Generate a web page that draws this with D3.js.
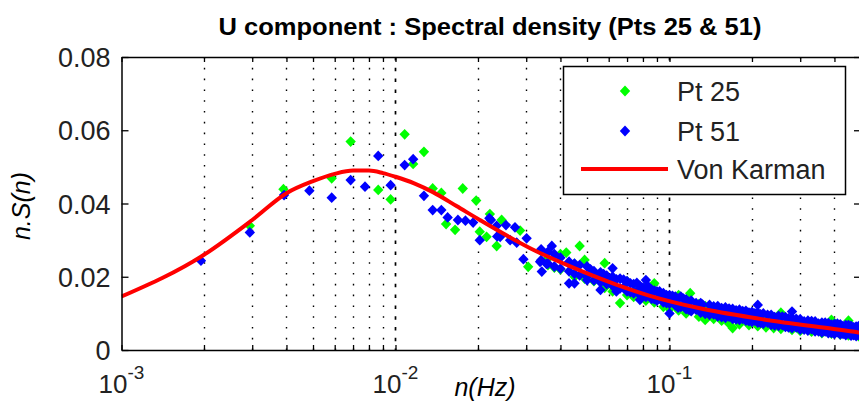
<!DOCTYPE html>
<html>
<head>
<meta charset="utf-8">
<script src="https://cdn.jsdelivr.net/npm/d3@7"></script>
<style>
  body { margin: 0; background: #fff; }
  svg { display: block; font-family: "Liberation Sans", Arial, sans-serif; }
</style>
</head>
<body>
<div id="chart"></div>
<script>
const chartTitle = "U component : Spectral density (Pts 25 & 51)";
const seriesNames = ["Pt 25", "Pt 51", "Von Karman"];
const yTicks = [0, 0.02, 0.04, 0.06, 0.08];
const xMajor = [1e-3, 1e-2, 1e-1];
const xExponents = ["-3", "-2", "-1"];

// Von Karman fit
const vkN = [0.001, 0.002, 0.003, 0.004, 0.005, 0.006, 0.007, 0.008, 0.009, 0.010, 0.0117,
  0.0137, 0.0167, 0.0203, 0.031, 0.0483, 0.0643, 0.0849, 0.129, 0.214, 0.49, 0.50];
const vkS = [0.0146, 0.026, 0.0355, 0.0428, 0.0461, 0.0481, 0.0490, 0.0490, 0.0483, 0.0473, 0.0455,
  0.0431, 0.0393, 0.0355, 0.0278, 0.0214, 0.0178, 0.0148, 0.0114, 0.0085, 0.0048, 0.0047];

// Pt 25 (green) [n, n.S(n)]
const pt25 = [
  [0.00294, 0.0339], [0.0039, 0.0439], [0.00585, 0.0469], [0.00686, 0.0569], [0.00865, 0.0437],
  [0.0096, 0.0411], [0.0108, 0.0589], [0.0116, 0.0508], [0.0127, 0.0541], [0.01367, 0.0441],
  [0.0147, 0.0429], [0.0176, 0.0441], [0.0197, 0.0408], [0.0153, 0.0344], [0.0165, 0.0328],
  [0.0215, 0.0309], [0.0221, 0.0371], [0.0203, 0.0323], [0.0234, 0.0284], [0.0244, 0.0355],
  [0.0285, 0.0326], [0.0305, 0.0227],
  [0.034, 0.0270], [0.036, 0.0250], [0.036, 0.0232], [0.038, 0.0225], [0.040, 0.0262], [0.040, 0.0220],
  [0.042, 0.0266], [0.045, 0.0235], [0.045, 0.0200], [0.047, 0.0284], [0.049, 0.0246], [0.049, 0.0195],
  [0.053, 0.0205], [0.053, 0.0188], [0.058, 0.0237], [0.058, 0.0170], [0.062, 0.0185], [0.062, 0.0160],
  [0.066, 0.0128], [0.070, 0.0187], [0.070, 0.0150], [0.074, 0.0160], [0.074, 0.0145],
  [0.078, 0.0170], [0.078, 0.0140], [0.082, 0.0173], [0.082, 0.0135], [0.088, 0.0182], [0.088, 0.0130],
  [0.095, 0.0150], [0.095, 0.0118], [0.100, 0.0145], [0.100, 0.0112], [0.108, 0.0150], [0.108, 0.0108],
  [0.115, 0.0135], [0.115, 0.0100], [0.119, 0.0155], [0.128, 0.0091], [0.128, 0.0125],
  [0.135, 0.0082], [0.135, 0.0120], [0.145, 0.0115], [0.145, 0.0085], [0.155, 0.0108], [0.155, 0.0080],
  [0.165, 0.0104], [0.165, 0.0072], [0.170, 0.0060], [0.180, 0.0098], [0.180, 0.0070],
  [0.195, 0.0094], [0.195, 0.0068], [0.210, 0.0092], [0.210, 0.0065], [0.225, 0.0088], [0.225, 0.0062],
  [0.240, 0.0086], [0.240, 0.0060], [0.255, 0.0102], [0.255, 0.0058], [0.280, 0.0078], [0.280, 0.0055],
  [0.300, 0.0075], [0.300, 0.0052], [0.330, 0.0070], [0.330, 0.0050], [0.360, 0.0068], [0.360, 0.0046],
  [0.390, 0.0082], [0.390, 0.0045], [0.420, 0.0062], [0.420, 0.0042], [0.450, 0.0080], [0.450, 0.0040],
  [0.490, 0.0058], [0.490, 0.0038]
];

// Pt 51 (blue) [n, n.S(n)]
const pt51 = [
  [0.00195, 0.0244], [0.00294, 0.0321], [0.00392, 0.0423], [0.00485, 0.0435], [0.00585, 0.0416],
  [0.00686, 0.0464], [0.00774, 0.0446], [0.00865, 0.0530], [0.0096, 0.0450], [0.0108, 0.0505],
  [0.0116, 0.0521], [0.0127, 0.0421], [0.01367, 0.0382], [0.0147, 0.0382], [0.0155, 0.0362],
  [0.0169, 0.0355], [0.0180, 0.0353], [0.0192, 0.0348], [0.0203, 0.0300], [0.0220, 0.0360],
  [0.0223, 0.0355], [0.0234, 0.0339], [0.0235, 0.0310], [0.0241, 0.0309], [0.0262, 0.0300],
  [0.0253, 0.0341], [0.0273, 0.0335], [0.0277, 0.0293], [0.0301, 0.0305], [0.0293, 0.0248],
  [0.0337, 0.0241], [0.0356, 0.0235], [0.0372, 0.0284], [0.0342, 0.0214],
  [0.034, 0.0275], [0.034, 0.0245], [0.036, 0.0268], [0.036, 0.0236], [0.038, 0.0262], [0.038, 0.0228],
  [0.040, 0.0252], [0.040, 0.0222], [0.043, 0.0241], [0.043, 0.0182], [0.043, 0.0215],
  [0.045, 0.0182], [0.045, 0.0236], [0.045, 0.0208], [0.047, 0.0232], [0.047, 0.0204],
  [0.050, 0.0228], [0.050, 0.0191], [0.050, 0.0200], [0.053, 0.0215], [0.053, 0.0190],
  [0.056, 0.0212], [0.056, 0.0164], [0.056, 0.0185], [0.059, 0.0203], [0.059, 0.0180],
  [0.062, 0.0223], [0.062, 0.0200], [0.062, 0.0175], [0.066, 0.0195], [0.066, 0.0168],
  [0.070, 0.0188], [0.070, 0.0160], [0.074, 0.0180], [0.074, 0.0155],
  [0.078, 0.0137], [0.078, 0.0175], [0.078, 0.0150], [0.082, 0.0191], [0.082, 0.0168], [0.082, 0.0145],
  [0.086, 0.0165], [0.086, 0.0140], [0.090, 0.0160], [0.090, 0.0135],
  [0.095, 0.0141], [0.095, 0.0155], [0.095, 0.0130], [0.100, 0.0150], [0.100, 0.0100], [0.100, 0.0126],
  [0.105, 0.0146], [0.105, 0.0122], [0.110, 0.0146], [0.110, 0.0118], [0.115, 0.0138], [0.115, 0.0112],
  [0.120, 0.0135], [0.120, 0.0106], [0.130, 0.0128], [0.130, 0.0102], [0.140, 0.0123], [0.140, 0.0096],
  [0.150, 0.0120], [0.150, 0.0092], [0.160, 0.0116], [0.160, 0.0088], [0.170, 0.0112], [0.170, 0.0085],
  [0.180, 0.0110], [0.180, 0.0082], [0.190, 0.0107], [0.190, 0.0080], [0.200, 0.0104], [0.200, 0.0077],
  [0.210, 0.0123], [0.210, 0.0102], [0.210, 0.0075], [0.220, 0.0100], [0.220, 0.0072],
  [0.235, 0.0096], [0.235, 0.0069], [0.250, 0.0093], [0.250, 0.0066], [0.265, 0.0090], [0.265, 0.0063],
  [0.280, 0.0105], [0.280, 0.0087], [0.280, 0.0060], [0.300, 0.0084], [0.300, 0.0056],
  [0.320, 0.0080], [0.320, 0.0053], [0.340, 0.0078], [0.340, 0.0051], [0.360, 0.0075], [0.360, 0.0048],
  [0.380, 0.0073], [0.380, 0.0046], [0.400, 0.0071], [0.400, 0.0044], [0.420, 0.0070], [0.420, 0.0043],
  [0.440, 0.0068], [0.440, 0.0041], [0.460, 0.0066], [0.460, 0.0039], [0.480, 0.0064], [0.480, 0.0038],
  [0.500, 0.0063], [0.500, 0.0036],
  [0.0515, 0.0220], [0.0545, 0.0196], [0.0575, 0.0207], [0.0605, 0.0185], [0.064, 0.0193],
  [0.068, 0.0170], [0.072, 0.0182], [0.076, 0.0160], [0.080, 0.0170], [0.084, 0.0150], [0.088, 0.0162],
  [0.092, 0.0142], [0.0975, 0.0150], [0.1025, 0.0130], [0.1075, 0.0140], [0.1125, 0.0120],
  [0.1175, 0.0132], [0.125, 0.0110],
  [0.132, 0.0124], [0.145, 0.0097], [0.155, 0.0114], [0.165, 0.0091], [0.175, 0.0108], [0.185, 0.0085],
  [0.195, 0.0102], [0.205, 0.0080], [0.215, 0.0097], [0.228, 0.0075], [0.242, 0.0090], [0.258, 0.0068],
  [0.272, 0.0086], [0.290, 0.0062], [0.310, 0.0078], [0.330, 0.0057], [0.350, 0.0072], [0.370, 0.0051],
  [0.390, 0.0069], [0.410, 0.0049], [0.430, 0.0065], [0.450, 0.0046], [0.470, 0.0062], [0.490, 0.0043],
  [0.064, 0.0160], [0.068, 0.0192], [0.072, 0.0158], [0.076, 0.0183], [0.080, 0.0148], [0.084, 0.0172],
  [0.088, 0.0139], [0.092, 0.0160], [0.0975, 0.0128], [0.1025, 0.0148], [0.1075, 0.0116],
  [0.1125, 0.0140], [0.1175, 0.0110],
  [0.125, 0.0128], [0.135, 0.0099], [0.145, 0.0119], [0.155, 0.0090], [0.165, 0.0113], [0.175, 0.0084],
  [0.185, 0.0106], [0.195, 0.0079], [0.205, 0.0100], [0.215, 0.0074], [0.228, 0.0096], [0.242, 0.0067],
  [0.258, 0.0091], [0.272, 0.0062], [0.290, 0.0085], [0.310, 0.0056], [0.330, 0.0079], [0.350, 0.0051],
  [0.370, 0.0075], [0.390, 0.0047], [0.410, 0.0072], [0.430, 0.0044], [0.450, 0.0068], [0.470, 0.0041],
  [0.490, 0.0065]
];

const width = 859, height = 403;
const plot = { left: 121.5, right: 861, top: 57, bottom: 350 };

const x = d3.scaleLog().domain([1e-3, 0.5]).range([plot.left, plot.right]);
const y = d3.scaleLinear().domain([0, 0.08]).range([plot.bottom, plot.top]);

const xTicks = x.ticks().filter((d) => d <= 0.5);
const xMinor = xTicks.filter((d) => !xMajor.some((m) => Math.abs(m - d) < 1e-9));

const svg = d3.create("svg").attr("width", width).attr("height", height);
svg.append("rect").attr("width", width).attr("height", height).attr("fill", "#fff");

svg.append("defs").append("clipPath").attr("id", "clip")
  .append("rect")
  .attr("x", plot.left).attr("y", plot.top)
  .attr("width", plot.right - plot.left).attr("height", plot.bottom - plot.top);

// dotted x grid (minor + major)
const grid = svg.append("g").attr("stroke", "#000");
grid.selectAll("line.minor")
  .data(xMinor)
  .join("line")
  .attr("class", "minor")
  .attr("x1", (d) => Math.round(x(d)) + 0.5).attr("x2", (d) => Math.round(x(d)) + 0.5)
  .attr("y1", plot.top).attr("y2", plot.bottom)
  .attr("stroke-width", 1.4)
  .attr("stroke-dasharray", "1.6,9.2");
grid.selectAll("line.major")
  .data(xMajor.slice(1))
  .join("line")
  .attr("class", "major")
  .attr("x1", (d) => Math.round(x(d)) + 0.5).attr("x2", (d) => Math.round(x(d)) + 0.5)
  .attr("y1", plot.top).attr("y2", plot.bottom)
  .attr("stroke-width", 1.7)
  .attr("stroke-dasharray", "3.5,7.3");

const diamond = "M0,-5.4L5.2,0L0,5.4L-5.2,0Z";
const marks = svg.append("g").attr("clip-path", "url(#clip)");

marks.append("g").selectAll("path")
  .data(pt25)
  .join("path")
  .attr("d", diamond)
  .attr("fill", "#00ff00")
  .attr("transform", (d) => `translate(${x(d[0])},${y(d[1])})`);

marks.append("g").selectAll("path")
  .data(pt51)
  .join("path")
  .attr("d", diamond)
  .attr("fill", "#0000ff")
  .attr("transform", (d) => `translate(${x(d[0])},${y(d[1])})`);

const line = d3.line()
  .x((d, i) => x(vkN[i]))
  .y((d) => y(d))
  .curve(d3.curveMonotoneX);

marks.append("path")
  .attr("d", line(vkS))
  .attr("fill", "none")
  .attr("stroke", "#ff0000")
  .attr("stroke-width", 4);

// axes, MATLAB style: ticks inside, box all round
const axisStyle = (g) => {
  g.select(".domain").attr("stroke", "#000").attr("stroke-width", 1.5);
  g.selectAll(".tick line").attr("stroke", "#000").attr("stroke-width", 1.3);
};

svg.append("g")
  .attr("transform", `translate(0,${plot.bottom})`)
  .call(d3.axisBottom(x).tickValues(xTicks).tickSize(-5).tickSizeOuter(0).tickFormat(""))
  .call(axisStyle);

svg.append("g")
  .attr("transform", `translate(0,${plot.top})`)
  .call(d3.axisTop(x).tickValues(xTicks).tickSize(-5).tickSizeOuter(0).tickFormat(""))
  .call(axisStyle);

svg.append("g")
  .attr("transform", `translate(${plot.left},0)`)
  .call(d3.axisLeft(y).tickValues(yTicks).tickSize(-7).tickSizeOuter(0).tickPadding(11)
    .tickFormat((d) => (d === 0 ? "0" : d3.format(".2f")(d))))
  .call(axisStyle)
  .call((g) => g.selectAll(".tick text")
    .attr("font-family", "'Liberation Sans', Arial, sans-serif")
    .attr("font-size", 27).attr("fill", "#222").attr("dy", "0.36em"));

svg.append("g")
  .attr("transform", `translate(${plot.right},0)`)
  .call(d3.axisRight(y).tickValues(yTicks).tickSize(-7).tickSizeOuter(0).tickFormat(""))
  .call(axisStyle);

// x tick labels 10^k
const xl = svg.append("g").attr("fill", "#222").attr("text-anchor", "middle");
xMajor.forEach((d, i) => {
  const t = xl.append("text").attr("x", x(d)).attr("y", 393).attr("font-size", 26);
  t.append("tspan").text("10");
  t.append("tspan").attr("font-size", 19).attr("dy", -14).text(xExponents[i]);
});

// titles
svg.append("text")
  .attr("x", 490).attr("y", 35)
  .attr("text-anchor", "middle")
  .attr("font-weight", "bold")
  .attr("font-size", 23)
  .attr("textLength", 543)
  .attr("lengthAdjust", "spacingAndGlyphs")
  .text(chartTitle);

svg.append("text")
  .attr("x", 485).attr("y", 396)
  .attr("text-anchor", "middle")
  .attr("font-style", "italic")
  .attr("font-size", 25)
  .text("n(Hz)");

svg.append("text")
  .attr("transform", "translate(30,206) rotate(-90)")
  .attr("text-anchor", "middle")
  .attr("font-style", "italic")
  .attr("font-size", 25)
  .text("n.S(n)");

// legend
const legend = svg.append("g");
legend.append("rect")
  .attr("x", 563.5).attr("y", 66.5).attr("width", 282).attr("height", 128)
  .attr("fill", "#fff").attr("stroke", "#000").attr("stroke-width", 1.5);

const legendRows = [
  { name: seriesNames[0], y: 91, color: "#00ff00", type: "marker" },
  { name: seriesNames[1], y: 131, color: "#0000ff", type: "marker" },
  { name: seriesNames[2], y: 169, color: "#ff0000", type: "line" }
];
legendRows.forEach((r) => {
  if (r.type === "marker") {
    legend.append("path").attr("d", diamond).attr("fill", r.color)
      .attr("transform", `translate(625,${r.y})`);
  } else {
    legend.append("line").attr("x1", 581).attr("x2", 668).attr("y1", r.y).attr("y2", r.y)
      .attr("stroke", r.color).attr("stroke-width", 4);
  }
  legend.append("text").attr("x", 677).attr("y", r.y + 9.5)
    .attr("font-size", 27).attr("fill", "#222").text(r.name);
});

document.getElementById("chart").append(svg.node());
</script>
</body>
</html>
